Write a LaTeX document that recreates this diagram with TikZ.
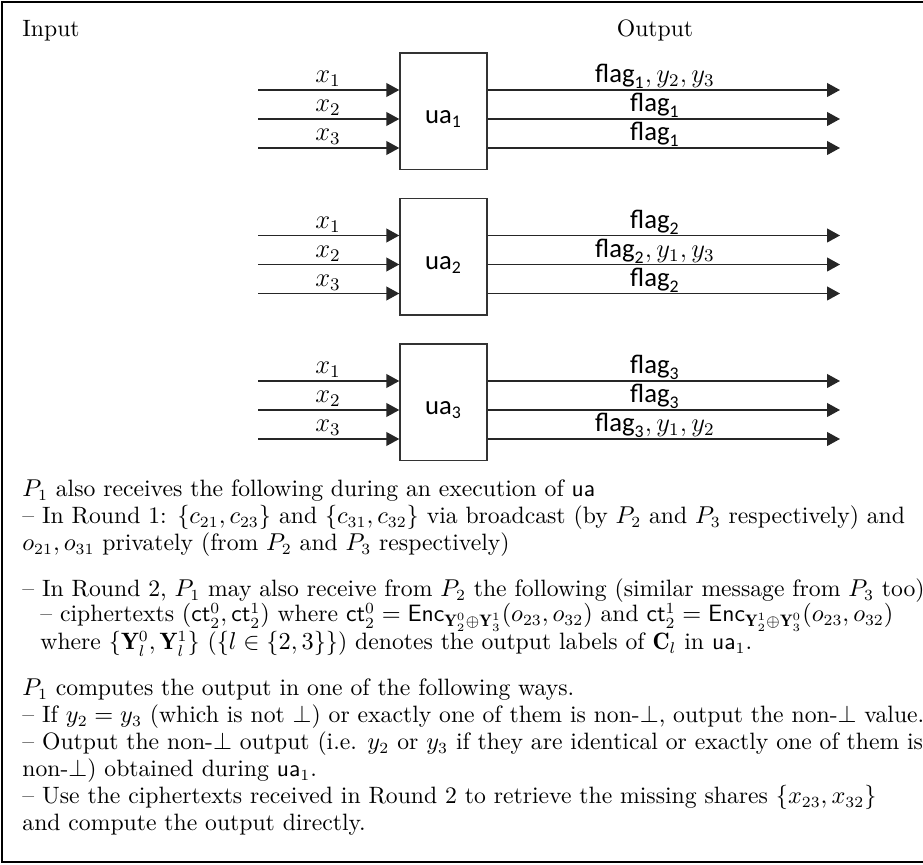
\documentclass[tikz,border=0pt]{standalone}
\usepackage{amsmath,amssymb}
\usepackage{fontspec}
\newfontfamily\diagsf{Carlito}
\usetikzlibrary{arrows.meta}
% sans labels used inside the block diagram
\newcommand\flg[1]{$\text{\diagsf flag}_{\text{\diagsf #1}}$}
\newcommand\uab[1]{$\text{\diagsf ua}_{\text{\diagsf #1}}$}
\begin{document}
\begin{tikzpicture}[x=0.45pt,y=-0.45pt,
  wire/.style={line width=0.65pt, draw=black!85, -{Triangle[length=5.8pt,width=6.2pt]}},
  unitbox/.style={draw=black!80, line width=0.6pt, minimum width=39.2pt, minimum height=52.4pt, inner sep=0pt},
  lbl/.style={anchor=base, inner sep=0pt, font=\fontsize{12}{14}\selectfont},
  head/.style={inner sep=0pt, font=\fontsize{10.65}{12.8}\selectfont},
  txt/.style={anchor=base west, inner sep=0pt, font=\fontsize{10.65}{12.8}\selectfont}]
\useasboundingbox (0,0) rectangle (923,865);
\clip (0,0) rectangle (923,865);
\draw[line width=0.9pt] (2.5,2.5) rectangle (960,862);

\node[head, anchor=base west] (inlbl) at (22,37) {Input};
\node[head, anchor=base] (outlbl) at (655,37) {Output};

% three units, each with three inputs and three outputs
\foreach \k/\dy in {1/0,2/145.5,3/291}{
  \node[unitbox] (ua\k) at (443.5,111.25+\dy) {};
  \node[lbl] (ua\k n) at (443.5,124+\dy) {\uab{\k}};
  \foreach \i/\r in {1/90,2/119,3/148}{
    \coordinate (s\k\i) at (258,\r+\dy);
    \coordinate (t\k\i) at (840,\r+\dy);
    \draw[wire] (s\k\i) -- (s\k\i -| ua\k.west);
    \draw[wire] (ua\k.east |- t\k\i) -- (t\k\i);
    \node[lbl] (x\k\i) at (328,\r+\dy-7) {$x_{\i}$};
  }
}

% output labels
\node[lbl] (o11) at (655,83)  {\flg{1}$, y_2, y_3$};
\node[lbl] (o12) at (655,112) {\flg{1}};
\node[lbl] (o13) at (655,141) {\flg{1}};
\node[lbl] (o21) at (655,228.5) {\flg{2}};
\node[lbl] (o22) at (655,257.5) {\flg{2}$, y_1, y_3$};
\node[lbl] (o23) at (655,286.5) {\flg{2}};
\node[lbl] (o31) at (655,374) {\flg{3}};
\node[lbl] (o32) at (655,403) {\flg{3}};
\node[lbl] (o33) at (655,432) {\flg{3}$, y_1, y_2$};

% explanatory text
\node[txt] (l1) at (22,497) {$P_1$ also receives the following during an execution of $\mathsf{ua}$};
\node[txt] (l2) at (22,524) {-- In Round 1: $\{c_{21}, c_{23}\}$ and $\{c_{31}, c_{32}\}$ via broadcast (by $P_2$ and $P_3$ respectively) and};
\node[txt] (l3) at (22,551) {$o_{21}, o_{31}$ privately (from $P_2$ and $P_3$ respectively)};
\node[txt] (l4) at (22,597) {-- In Round 2, $P_1$ may also receive from $P_2$ the following (similar message from $P_3$ too)};
\node[txt] (l5) at (40,622) {-- ciphertexts $(\mathsf{ct}_2^0, \mathsf{ct}_2^1)$ where $\mathsf{ct}_2^0 = \mathsf{Enc}_{\mathbf{Y}_2^0 \oplus \mathbf{Y}_3^1}(o_{23}, o_{32})$ and $\mathsf{ct}_2^1 = \mathsf{Enc}_{\mathbf{Y}_2^1 \oplus \mathbf{Y}_3^0}(o_{23}, o_{32})$};
\node[txt] (l6) at (40,650) {where $\{\mathbf{Y}_l^0, \mathbf{Y}_l^1\}$ ($\{l \in \{2,3\}\}$) denotes the output labels of $\mathbf{C}_l$ in $\mathsf{ua}_1$.};
\node[txt] (l7) at (22,696) {$P_1$ computes the output in one of the following ways.};
\node[txt] (l8) at (22,723) {-- If $y_2 = y_3$ (which is not $\bot$) or exactly one of them is non-$\bot$, output the non-$\bot$ value.};
\node[txt] (l9) at (22,750) {-- Output the non-$\bot$ output (i.e. $y_2$ or $y_3$ if they are identical or exactly one of them is};
\node[txt] (l10) at (22,777) {non-$\bot$) obtained during $\mathsf{ua}_1$.};
\node[txt] (l11) at (22,804) {-- Use the ciphertexts received in Round 2 to retrieve the missing shares $\{x_{23}, x_{32}\}$};
\node[txt] (l12) at (22,831) {and compute the output directly.};
\end{tikzpicture}
\end{document}
